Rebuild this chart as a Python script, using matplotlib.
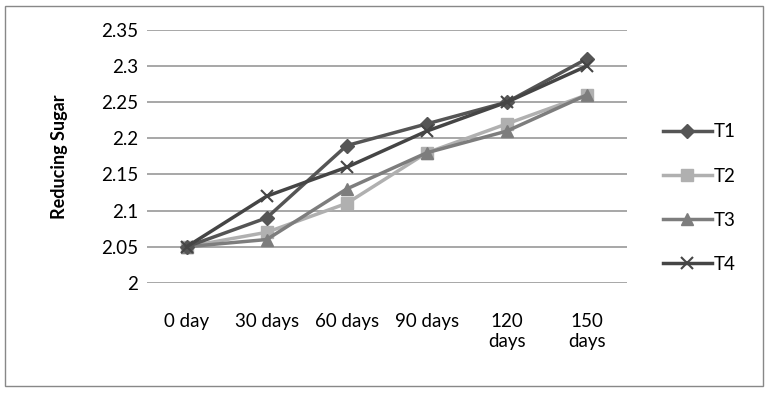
import numpy as np
import matplotlib.pyplot as plt
from matplotlib.patches import Rectangle

categories = ['0 day', '30 days', '60 days', '90 days', '120\ndays', '150\ndays']
t1 = [2.05, 2.09, 2.19, 2.22, 2.25, 2.31]
t2 = [2.05, 2.07, 2.11, 2.18, 2.22, 2.26]
t3 = [2.05, 2.06, 2.13, 2.18, 2.21, 2.26]
t4 = [2.05, 2.12, 2.16, 2.21, 2.25, 2.30]
yticks = [2, 2.05, 2.1, 2.15, 2.2, 2.25, 2.3, 2.35]
ytick_labels = ['2', '2.05', '2.1', '2.15', '2.2', '2.25', '2.3', '2.35']

plt.rcParams['font.family'] = ['Lato', 'DejaVu Sans']

fig = plt.figure(figsize=(7.68, 3.94), dpi=100)
ax = fig.add_axes([0.191, 0.282, 0.625, 0.642])

x = np.arange(len(categories))
ax.plot(x, t1, color='#555555', lw=2.5, marker='D', ms=7, label='T1', zorder=5)
ax.plot(x, t2, color='#b0b0b0', lw=2.5, marker='s', ms=9, label='T2', zorder=3)
ax.plot(x, t3, color='#7d7d7d', lw=2.5, marker='^', ms=9, label='T3', zorder=4)
ax.plot(x, t4, color='#454545', lw=2.5, marker='x', ms=9, mew=1.5, label='T4', zorder=6)

ax.set_xlim(-0.5, 5.5)
ax.set_ylim(2, 2.35)
ax.set_yticks(yticks)
ax.set_yticklabels(ytick_labels)
ax.set_xticks(x)
ax.set_xticklabels(categories)
ax.tick_params(axis='both', length=0, labelsize=13.5)
ax.tick_params(axis='x', pad=22)
ax.tick_params(axis='y', pad=6)
ax.grid(axis='y', color='#a0a0a0', lw=1.3)
ax.set_axisbelow(True)
for s in ax.spines.values():
	s.set_visible(False)
ax.set_ylabel('Reducing Sugar', fontsize=13, fontweight='bold', labelpad=24)

ax.legend(loc='center left', bbox_to_anchor=(1.04, 0.335), frameon=False,
	fontsize=13.5, labelspacing=1.45, handlelength=2.6, handletextpad=0.1)

fig.patches.append(Rectangle((0.007, 0.02), 0.986, 0.965, transform=fig.transFigure,
	fill=False, edgecolor='#888888', lw=1))

fig.savefig('out.png', dpi=100)
